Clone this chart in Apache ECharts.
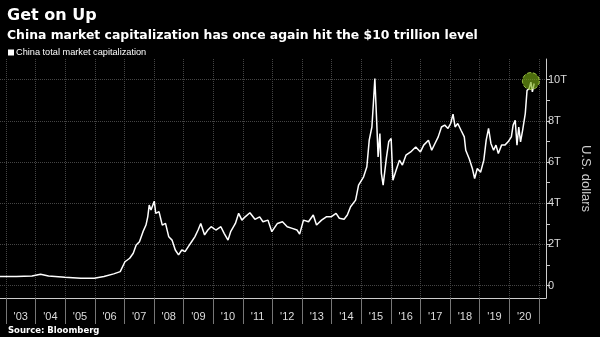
<!DOCTYPE html>
<html>
<head>
<meta charset="utf-8">
<script src="https://cdn.jsdelivr.net/npm/echarts@6/dist/echarts.min.js"></script>
<style>html,body{margin:0;padding:0;background:#000;}#c{width:600px;height:337px;}</style>
</head>
<body>
<div id="c"></div>
<script>
// Decimal years and China total market capitalization (trillions of US$)
var years = [2002.80,2003.35,2003.88,2004.17,2004.44,2004.99,2005.53,2005.98,2006.31,2006.64,2006.86,
2007.02,2007.18,2007.30,2007.40,2007.51,2007.63,2007.73,2007.79,2007.84,2007.90,
2008.01,2008.06,2008.17,2008.28,2008.39,2008.50,2008.61,2008.72,2008.83,2008.94,
2009.05,2009.16,2009.27,2009.38,2009.49,2009.58,2009.71,2009.82,2009.93,
2010.09,2010.26,2010.37,2010.50,2010.59,2010.75,2010.86,2010.97,
2011.08,2011.24,2011.41,2011.57,2011.68,2011.85,2011.98,
2012.17,2012.34,2012.50,2012.67,2012.83,2012.92,
2013.05,2013.22,2013.38,2013.49,2013.66,2013.82,2013.98,
2014.15,2014.26,2014.42,2014.53,2014.64,2014.81,2014.91,
2015.08,2015.19,2015.27,2015.36,2015.41,2015.46,2015.52,2015.57,2015.63,2015.68,2015.74,2015.85,2015.93,
2016.01,2016.07,2016.18,2016.29,2016.39,2016.51,2016.67,2016.84,
2017.00,2017.11,2017.27,2017.38,2017.49,2017.60,2017.71,2017.82,2017.93,
2018.02,2018.10,2018.17,2018.26,2018.37,2018.48,2018.53,2018.65,2018.75,2018.83,2018.92,
2019.03,2019.14,2019.22,2019.30,2019.38,2019.47,2019.55,2019.63,2019.74,2019.85,2019.96,
2020.07,2020.13,2020.20,2020.26,2020.32,2020.38,2020.45,2020.54,2020.60,2020.67,2020.73,2020.78,2020.84];
var marketCap = [0.44,0.44,0.47,0.55,0.47,0.41,0.36,0.36,0.44,0.57,0.68,
1.16,1.33,1.57,1.97,2.13,2.62,2.94,3.34,3.91,3.67,
4.10,3.51,3.59,2.94,3.02,2.37,2.21,1.73,1.49,1.73,
1.65,1.89,2.13,2.37,2.70,3.02,2.46,2.70,2.86,
2.70,2.86,2.54,2.21,2.62,3.02,3.51,3.18,
3.34,3.54,3.22,3.34,3.10,3.18,2.62,
3.02,3.10,2.86,2.78,2.70,2.50,
3.18,3.10,3.43,2.94,3.18,3.34,3.34,
3.51,3.27,3.22,3.43,3.83,4.15,4.88,
5.28,5.77,7.06,7.70,8.84,10.05,8.03,6.25,7.38,5.45,4.88,6.20,7.00,
7.14,5.12,5.61,6.09,5.85,6.33,6.49,6.73,
6.49,6.82,7.06,6.57,6.90,7.22,7.70,7.79,7.63,
7.87,8.32,7.70,7.87,7.54,7.22,6.57,6.15,5.70,5.20,5.69,
5.50,6.09,7.06,7.63,6.90,6.57,6.82,6.41,6.82,6.82,6.98,
7.22,7.79,8.03,6.82,7.70,6.98,7.54,8.35,9.48,9.56,9.88,9.40,9.81];
var highlight = [2020.73, 9.93];
var yearTicks = [2003,2004,2005,2006,2007,2008,2009,2010,2011,2012,2013,2014,2015,2016,2017,2018,2019,2020,2021];
var yearLabels = [2003.5,2004.5,2005.5,2006.5,2007.5,2008.5,2009.5,2010.5,2011.5,2012.5,2013.5,2014.5,2015.5,2016.5,2017.5,2018.5,2019.5,2020.5];
var yTicks = [0,1,2,3,4,5,6,7,8,9,10];
var yLabels = [0,2,4,6,8,10];

var seriesData = years.map(function(y,i){return [y, marketCap[i]];});
var chart = echarts.init(document.getElementById('c'), null, {renderer:'canvas'});
chart.setOption({
  backgroundColor:'#000',
  animation:false,
  title:[
    {text:'Get on Up', left:2, top:3, textStyle:{color:'#fff', fontSize:16, fontWeight:'bold', fontFamily:'DejaVu Sans'}},
    {text:'China market capitalization has once again hit the $10 trillion level', left:2, top:25, textStyle:{color:'#fff', fontSize:12.4, fontWeight:'bold', fontFamily:'DejaVu Sans'}},
    {text:'Source: Bloomberg', left:3, top:321, textStyle:{color:'#fff', fontSize:8.5, fontWeight:'bold', fontFamily:'DejaVu Sans'}}
  ],
  legend:{show:true, left:3, top:43, icon:'rect', itemWidth:6, itemHeight:6, itemGap:4,
    textStyle:{color:'#fff', fontSize:9.2, fontFamily:'Liberation Sans', padding:[0,0,0,-3]},
    data:['China total market capitalization']},
  grid:{left:0, right:39, top:59, bottom:39},
  xAxis:[{
    type:'value', min:2002.8, max:2021.24,
    axisLine:{show:true, onZero:false, lineStyle:{color:'#ccc', width:1}},
    axisTick:{show:true, customValues:yearTicks, length:26, lineStyle:{color:'#777'}},
    axisLabel:{show:true, customValues:yearLabels, color:'#ddd', fontSize:11, margin:13, fontFamily:'Liberation Sans',
      formatter:function(v){return "'" + String(Math.floor(v)).slice(2);}},
    splitLine:{show:true, lineStyle:{color:'#444', type:'dotted', width:1}}
  }],
  yAxis:[{
    type:'value', position:'right', min:-0.6, max:11,
    axisLine:{show:true, lineStyle:{color:'#ccc', width:1}},
    axisTick:{show:true, customValues:yTicks, length:4, lineStyle:{color:'#ccc'}},
    axisLabel:{show:true, customValues:yLabels, color:'#ddd', fontSize:11, margin:2, fontFamily:'Liberation Sans',
      formatter:function(v){return v===0 ? '0' : v + 'T';}},
    splitLine:{show:false},
    name:'U.S. dollars', nameLocation:'middle', nameRotate:-90, nameGap:33,
    nameTextStyle:{color:'#ccc', fontSize:13, fontFamily:'Liberation Sans'}
  },{
    type:'value', position:'right', min:-0.6, max:11,
    axisLine:{show:false}, axisLabel:{show:false},
    axisTick:{show:false, customValues:yLabels},
    splitLine:{show:true, lineStyle:{color:'#444', type:'dotted', width:1}}
  }],
  series:[{
    name:'China total market capitalization', type:'line', data:seriesData, showSymbol:false,
    lineStyle:{color:'#fff', width:1.5}, itemStyle:{color:'#fff'}, z:3
  },{
    name:'highlight', type:'scatter', data:[highlight], symbolSize:17, z:4,
    itemStyle:{color:'rgba(120,170,20,0.8)', borderColor:'#b5e053', borderWidth:1, borderType:'dashed'}
  }]
});
</script>
</body>
</html>
